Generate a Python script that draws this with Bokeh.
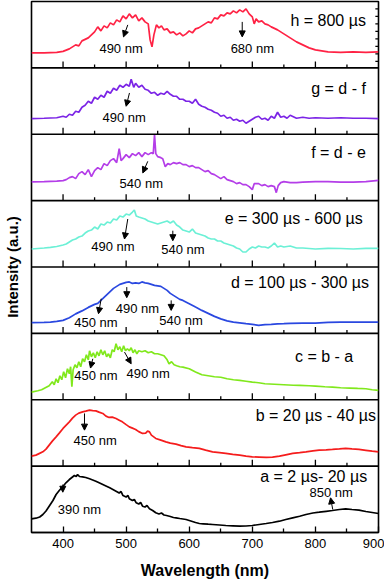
from bokeh.plotting import figure
from bokeh.models import (Range1d, FixedTicker, Span, Arrow, NormalHead,
                          ColumnDataSource)
from bokeh.core.properties import value
from bokeh.embed import file_html
from bokeh.resources import INLINE

FONT = "Liberation Sans"

# ---------------- data (wavelength nm, intensity a.u.) ----------------
wl_a = [350,357,363,368,373,378,384,389,394,400,405,410,415,418,421,423,426,431,436,442,447,452,458,463,468,474,479,484,489,492,495,500,503,505,510,513,516,520,523,526,530,533,537,542,547,552,556,560,564,570,575,579,585,590,595,600,605,610,616,622,630,637,648,658,669,680,690,700,711,722,732,743,753,764,775,785,796,806,817,827,838,848,858,869,880,890,900]
int_a = [13.7,14.3,15.5,18,21.5,26.3,32,38,42,46.3,50,53,55.5,57,56,58,56,55.7,55,53.7,52.5,51.3,49.5,48,46.5,44.7,43,41.3,39.5,41,37,35.5,37,33.7,32,33,29.7,28.5,30,26.3,25.5,27,23.7,22,19.7,18.5,19.5,17.5,17,16,15,14.7,14,13.5,13,12,11,10,9,8.7,8.3,8,7.5,7,6.7,6.3,6.5,7,8,9,10,11.3,13,14.7,16.3,18,19.5,20.3,21.2,22,23,23.7,23,22.3,21,20,19]

wl_b = [350,357,362,368,373,378,383,389,394,400,405,410,415,420,425,431,436,442,447,452,457,463,468,473,478,484,489,494,500,505,510,515,520,526,531,534,537,540,547,555,563,570,579,587,595,605,616,626,637,648,658,669,680,690,700,711,722,732,743,753,764,775,785,796,806,817,827,838,848,858,869,880,890,900]
int_b = [10,11,12.5,14.3,17,21,25,29.3,33,37.7,41,44.3,48,51,53,54.3,55,56,55.5,55.3,54,52.7,50,48.7,49,47.7,46,44.3,41.5,39.3,38,36.7,34.5,32.7,33,35,34.3,31,27.7,26,24.3,23,22,20.5,19.3,18.5,17.7,16,14.3,13.5,12.7,11.8,11,10,9.3,9,8.7,9,10,11.3,12.7,13.5,14.3,15.3,16,16.3,16.7,17.2,17.7,17.2,16.7,15.8,15,14.3]

wl_c = [350,360,366,372,378,383,386,389,392,395,398,401,404,407,410,412,414,416,419,422,425,428,431,434,437,440,442,445,448,451,454,457,460,463,466,469,472,475,478,481,484,487,490,493,496,499,502,505,508,511,514,517,520,525,530,535,540,545,550,555,560,565,568,572,576,580,585,590,600,610,620,630,640,650,660,670,680,690,700,710,720,735,750,765,775,790,800,815,827,840,854,867,880,890,900]
int_c = [7.7,9,10,12,14,18,15,21,17,24,20,28,22,31,26,33,13,30,35,32,38,33,41,38,45,40,49,43,47,42,48,44,50,45,49,43,46,42,50,48,56,50,53,48,54,49,51,49,52,47,50,46,49,48,49,47,48,46,46,45,44,40,36,38,35,34,33,32.7,31,27.7,25,24,23,22.5,21,20,19.3,18.5,17.7,17,16,15.5,15,14.5,14.3,14,13.7,13,12.7,12,11.7,11.3,11,10,9.3]

wl_d = [350,370,380,390,400,410,420,430,440,450,455,460,465,470,475,480,485,490,495,500,505,510,515,520,525,530,535,540,545,550,555,560,565,570,575,580,585,590,600,610,620,630,640,650,660,670,680,690,700,710,720,730,740,750,760,780,800,820,840,860,880,900]
int_d = [10.7,11,11.3,12,13,15.7,19.5,22.5,26,29,30,33,36,39,42,45,47,49,50,51,51.5,50,50.5,50,51.5,50.5,50,49,48,47.5,47,45,43,40,38,36,34,33,29.7,26.3,23,20,17,14.5,12.5,11.3,10.5,9.7,9,8,8.7,9,9.5,9.7,10,10.3,10.3,11,11.3,11.3,11.3,11.3]

wl_e = [350,370,380,390,400,405,410,415,420,425,430,435,440,445,450,455,460,465,470,475,480,485,490,495,500,505,510,513,516,520,525,530,535,540,545,550,555,560,565,570,575,580,585,590,595,600,605,610,615,620,625,630,635,640,645,650,655,660,665,670,675,680,685,690,695,700,705,710,715,720,725,730,735,740,745,750,760,770,780,790,800,820,840,860,880,900]
int_e = [18,19,19.7,20.5,22,23,25,27,28,30,31,34,36,37,40,38,43,42,45,44,48,47,51,50,53,52,55,57,51,50,49,48,46,45,44,43,44,45,46,44,46,42,40,37,36,35,38,34,33,32,31,29,28,28,26,26,24,23,22,21,19,18,15,15,18,20,19,21,20,20,19,21,24,20,21,20,21,19,19,18.5,18,18.7,18.5,18,18.7,18.7]

wl_f = [350,370,390,400,405,410,415,420,425,430,435,440,445,450,455,460,465,470,475,480,485,489,492,495,500,505,510,515,520,525,530,535,540,543,545,547,550,555,558,562,566,570,575,580,585,590,595,600,605,610,615,620,625,630,635,640,645,650,655,660,665,670,675,680,685,690,695,700,703,710,715,720,725,730,735,738,741,745,750,760,770,780,800,820,840,860,880,900]
int_f = [18.7,19,19.5,20,21,23,24,22,27,29,26,31,24,30,33,31,37,35,40,42,38,52,40,42,46,43,47,45,48,44,48,46,48,47,66,47,44,43,42,34,37,36,38,37,38,36,36,34,35,33,33,31,29,30,27,26,24,22,24,21,20,19,17,18,16,16,14,11,17,17,15,16,14,15,14,8,15,18,19,18,18,18.5,19,19,18.5,18.5,19,20.3]

wl_g = [350,370,390,400,405,410,415,420,425,430,435,440,445,450,455,460,465,470,475,480,485,490,495,500,505,508,512,515,520,525,530,535,540,545,550,555,560,565,570,575,580,585,590,595,600,605,610,615,620,625,630,635,640,645,650,655,660,665,670,675,680,685,690,695,700,705,710,715,720,725,730,735,740,745,750,755,760,770,780,790,800,820,840,860,880,900]
int_g = [15.7,16,16.5,18,17,20,19,23,22,27,29,33,31,37,35,39,37,43,41,46,44,49,47,50,48,55,47,51,47,49,45,44,41,42,39,41,40,43,40,38,38,35,35,33,33,31,35,30,28,27,25,24,22,21,18,19,16,17,14,15,13,14,11,13,15,17,18,15,16,14,18,16,22,17,18,16,19,16,17,16,16.5,16,16.5,16,16,15.7]

wl_h = [350,370,390,400,410,420,425,430,440,445,450,455,460,465,470,475,480,485,490,495,500,505,510,515,520,525,530,535,538,541,544,548,552,556,560,565,570,575,580,585,590,595,600,605,610,615,620,625,630,635,640,645,650,655,660,665,670,675,680,685,690,695,700,703,706,710,715,720,725,730,740,750,760,770,780,790,800,810,820,840,860,880,900]
int_h = [15,15,15.5,16.5,19,23,22,27,30,33,36,41,37,42,40,45,43,48,46,52,49,54,50,53,47,50,46,44,28,21,33,43,40,42,38,39,35,36,33,35,32,34,37,35,39,40,42,44,46,45,50,49,53,52,55,54,57,55,58,56,59,54,51,44,49,46,47,44,43,41,38,34,30,26,23,20,18,17,16,15.5,16,15.5,16]

series_names = ["a", "b", "c", "d", "e", "f", "g", "h"]          # bottom -> top
series_wl = [wl_a, wl_b, wl_c, wl_d, wl_e, wl_f, wl_g, wl_h]
series_int = [int_a, int_b, int_c, int_d, int_e, int_f, int_g, int_h]
series_labels = ["a = 2 \u00b5s- 20 \u00b5s", "b = 20 \u00b5s - 40 \u00b5s", "c = b - a",
                 "d = 100 \u00b5s - 300 \u00b5s", "e = 300 \u00b5s - 600 \u00b5s",
                 "f = d - e", "g = d - f", "h = 800 \u00b5s"]
series_colors = ["#000000", "#f51c1c", "#80e81c", "#2a48e0",
                 "#6cf0d6", "#b43ee8", "#7b24e6", "#ff2244"]

x_major = [400, 500, 600, 700, 800, 900]
x_minor = [450, 550, 650, 750, 850]

# peak annotations: panel, text, text position, arrow start -> end
ann_panel = ["h", "h", "g", "f", "e", "e", "d", "d", "d", "c", "c", "b", "a", "a"]
ann_text = ["490 nm", "680 nm", "490 nm", "540 nm", "490 nm", "540 nm", "450 nm",
            "490 nm", "540 nm", "450 nm", "490 nm", "450 nm", "390 nm", "850 nm"]
ann_x = [492, 700, 497, 524, 479, 590, 452, 518, 587, 452, 535, 451, 426, 825]
ann_y = [19, 19, 17, 17, 20.7, 18, 11.3, 25.3, 13, 24.3, 26, 26, 23, 39.7]
arr_x0 = [502.6, 684, 505.3, 534.3, 502.6, 574, 460.5, 501, 571.4, 447.2, 497.4, 434, 399.6, 827.5]
arr_y0 = [43, 46, 41.3, 39.3, 48, 36.3, 34.7, 46.3, 33, 41, 47.7, 52.7, 48, 23]
arr_x1 = [495.8, 684, 500, 526.4, 497.4, 574, 456.2, 501, 571.4, 443.5, 508, 434, 399.6, 824]
arr_y1 = [31, 31, 28, 27.7, 28, 26.3, 19.7, 35.7, 23, 31.7, 36, 36, 40.3, 34.7]

# label placement (right edge wl, height within panel)
label_x = [882, 896, 860, 885, 875, 880, 880, 880]
label_y = [56, 50.5, 43, 51, 49, 48, 46, 47]

# right-side ticks of the top panel (panel h scale)
h_right_ticks = [6.5, 14, 21.5, 29, 36.5, 44, 51.5, 59]

PANEL = 66.4
N = len(series_names)
idx = {n: i for i, n in enumerate(series_names)}

p = figure(frame_width=347, frame_height=531, output_backend="svg",
           toolbar_location=None, x_range=Range1d(350, 900),
           y_range=Range1d(0, N * PANEL), min_border_top=1,
           min_border_right=6, min_border_left=0, min_border_bottom=0)
p.background_fill_color = "white"
p.border_fill_color = "white"
p.grid.visible = False
p.outline_line_color = "black"
p.outline_line_width = 1.6

# curves
for i in range(N):
    ys = [v + i * PANEL for v in series_int[i]]
    p.line(series_wl[i], ys, line_color=series_colors[i], line_width=1.7)

# panel separators
for i in range(1, N):
    p.add_layout(Span(location=i * PANEL, dimension="width",
                      line_color="black", line_width=1.6))

# inner panel ticks (bottom of each upper panel)
tx0, ty0, ty1 = [], [], []
for i in range(1, N):
    for t in x_major:
        if t < 900:
            tx0.append(t); ty0.append(i * PANEL); ty1.append(i * PANEL + 6.5)
    for t in x_minor:
        tx0.append(t); ty0.append(i * PANEL); ty1.append(i * PANEL + 3.5)
p.segment(x0=tx0, y0=ty0, x1=tx0, y1=ty1, line_color="black", line_width=1.3)

# right-side ticks of top panel
rty = [v + (N - 1) * PANEL for v in h_right_ticks]
p.segment(x0=[900] * len(rty), y0=rty, x1=[895] * len(rty), y1=rty,
          line_color="black", line_width=1.2)

# panel labels
p.text(x=label_x, y=[label_y[i] + i * PANEL for i in range(N)], text=series_labels,
       text_align="right", text_baseline="middle", text_font=value(FONT),
       text_font_size="16px", text_color="black")

# annotations
p.text(x=ann_x, y=[ann_y[k] + idx[ann_panel[k]] * PANEL for k in range(len(ann_text))],
       text=ann_text, text_align="center", text_baseline="middle",
       text_font=value(FONT), text_font_size="13px", text_color="black")
asrc = ColumnDataSource(dict(
    x0=arr_x0, x1=arr_x1,
    y0=[arr_y0[k] + idx[ann_panel[k]] * PANEL for k in range(len(ann_text))],
    y1=[arr_y1[k] + idx[ann_panel[k]] * PANEL for k in range(len(ann_text))]))
p.add_layout(Arrow(source=asrc, x_start="x0", y_start="y0", x_end="x1", y_end="y1",
                   line_color="black", line_width=1,
                   end=NormalHead(size=6, fill_color="black", line_color="black")))

# x axis
xa = p.xaxis[0]
xa.ticker = FixedTicker(ticks=x_major, minor_ticks=x_minor)
xa.major_tick_in = 6
xa.major_tick_out = 0
xa.minor_tick_in = 4
xa.minor_tick_out = 0
xa.major_tick_line_width = 1.3
xa.minor_tick_line_width = 1.3
xa.axis_line_width = 1.6
xa.major_label_text_font = FONT
xa.major_label_text_font_size = "13px"
xa.major_label_text_color = "black"
xa.major_label_standoff = 6
xa.axis_label = "Wavelength (nm)"
xa.axis_label_text_font = FONT
xa.axis_label_text_font_style = "bold"
xa.axis_label_text_font_size = "16px"
xa.axis_label_text_color = "black"
xa.axis_label_standoff = 11

# y axis: label only
ya = p.yaxis[0]
ya.ticker = FixedTicker(ticks=[])
ya.axis_line_color = None
ya.major_tick_line_color = None
ya.minor_tick_line_color = None
ya.axis_label = "Intensity (a.u.)"
ya.axis_label_text_font = FONT
ya.axis_label_text_font_style = "bold"
ya.axis_label_text_font_size = "15px"
ya.axis_label_text_color = "black"
ya.axis_label_standoff = 11

open("out.html", "w").write(file_html(p, INLINE))
